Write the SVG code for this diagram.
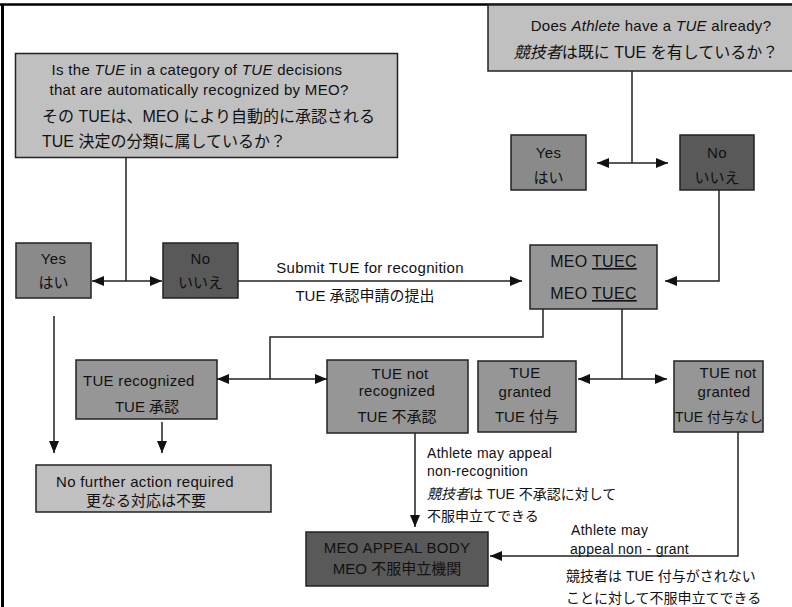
<svg xmlns="http://www.w3.org/2000/svg" width="792" height="607" viewBox="0 0 792 607">
<defs>
<style>
text{font-family:"Liberation Sans","Noto Sans CJK JP",sans-serif;fill:#111;}
.en{font-size:15px;letter-spacing:0.3px;}
.lb{font-size:14px;letter-spacing:0.3px;}
.jp{font-size:15px;}
.js{font-size:14px;}
.jpl{font-size:16px;}
.m{text-anchor:middle;}
.i{font-style:italic;}
.light{fill:#c0c0c0;stroke:#222;stroke-width:1.5;}
.mid{fill:#969696;stroke:#222;stroke-width:1.5;}
.yes{fill:#8a8a8a;stroke:#222;stroke-width:1.5;}
.dark{fill:#595959;stroke:#222;stroke-width:1.5;}
.c{fill:none;stroke:#222;stroke-width:1.5;}
.u{text-decoration:underline;}
</style>
<marker id="ah" markerUnits="userSpaceOnUse" markerWidth="12" markerHeight="10" refX="12" refY="5" orient="auto-start-reverse">
<path d="M0,0 L12,5 L0,10 z" fill="#111"/>
</marker>
</defs>
<rect x="0" y="0" width="792" height="607" fill="#fff"/>
<g id="frame">
<line x1="0" y1="4.5" x2="792" y2="4.5" stroke="#000" stroke-width="2.5"/>
<line x1="2.5" y1="4" x2="2.5" y2="607" stroke="#000" stroke-width="3"/>
</g>
<g id="connectors">
<path class="c" d="M126,157 V281"/>
<path class="c" d="M92,281 H162" marker-start="url(#ah)" marker-end="url(#ah)"/>
<path class="c" d="M238,281 H522" marker-end="url(#ah)"/>
<path class="c" d="M632,71 V163"/>
<path class="c" d="M597,163 H668" marker-start="url(#ah)" marker-end="url(#ah)"/>
<path class="c" d="M719,190 V281 H665" marker-end="url(#ah)"/>
<path class="c" d="M543,309 V337 H270 V379"/>
<path class="c" d="M217,379 H327" marker-start="url(#ah)" marker-end="url(#ah)"/>
<path class="c" d="M622,309 V379"/>
<path class="c" d="M578,379 H667" marker-start="url(#ah)" marker-end="url(#ah)"/>
<path class="c" d="M54,316 V453" marker-end="url(#ah)"/>
<path class="c" d="M162,422 V453" marker-end="url(#ah)"/>
<path class="c" d="M415,433 V527" marker-end="url(#ah)"/>
<path class="c" d="M738,432 V556 H490" marker-end="url(#ah)"/>
<text class="en m" x="370" y="273">Submit  TUE  for recognition</text>
<text class="jp m" x="365" y="301">TUE 承認申請の提出</text>
<text class="lb" x="427" y="458">Athlete may appeal</text>
<text class="lb" x="427" y="476">non-recognition</text>
<text class="js" x="427" y="499"><tspan class="i">競技者</tspan>は TUE  不承認に対して</text>
<text class="js" x="427" y="521">不服申立てできる</text>
<text class="lb" x="571" y="535">Athlete may</text>
<text class="lb" x="570" y="554">appeal  non - grant</text>
<text class="js" x="566" y="581">競技者は  TUE 付与がされない</text>
<text class="js" x="566" y="603">ことに対して不服申立てできる</text>
</g>
<g id="q-category">
<rect class="light" x="15.5" y="53.5" width="382" height="104"/>
<text class="en m" x="197" y="75">Is the <tspan class="i">TUE</tspan> in a category of  <tspan class="i">TUE</tspan> decisions</text>
<text class="en m" x="199" y="95">that are automatically recognized by MEO?</text>
<text class="jpl" x="42" y="122">その TUEは、MEO により自動的に承認される</text>
<text class="jpl" x="42" y="147">TUE 決定の分類に属しているか？</text>
</g>
<g id="q-has-tue">
<rect class="light" x="488" y="5" width="310" height="66"/>
<text class="en m" x="651" y="31">Does <tspan class="i">Athlete</tspan> have a <tspan class="i">TUE</tspan> already?</text>
<text class="jp m" x="646" y="58" style="font-size:16px"><tspan class="i">競技者</tspan>は既に TUE を有しているか？</text>
</g>
<g id="yes-left">
<rect class="yes" x="16" y="243" width="75" height="55"/>
<text class="en m" x="53.5" y="264">Yes</text>
<text class="jp m" x="53.5" y="288">はい</text>
</g>
<g id="no-left">
<rect class="dark" x="163" y="243" width="75" height="55"/>
<text class="en m" x="200.5" y="264">No</text>
<text class="jp m" x="200.5" y="288">いいえ</text>
</g>
<g id="yes-right">
<rect class="yes" x="511" y="135" width="75" height="55"/>
<text class="en m" x="548.5" y="158">Yes</text>
<text class="jp m" x="548.5" y="183">はい</text>
</g>
<g id="no-right">
<rect class="dark" x="680" y="135" width="74" height="55"/>
<text class="en m" x="717" y="158">No</text>
<text class="jp m" x="717" y="183">いいえ</text>
</g>
<g id="meo-tuec">
<rect class="mid" x="530" y="245" width="127" height="64"/>
<text class="en m" x="593.5" y="267" style="font-size:16px">MEO <tspan class="u">TUEC</tspan></text>
<text class="en m" x="593.5" y="299" style="font-size:16px">MEO <tspan class="u">TUEC</tspan></text>
</g>
<g id="tue-recognized">
<rect class="mid" x="76" y="360" width="141" height="59"/>
<text class="en" x="83" y="386">TUE  recognized</text>
<text class="jp m" x="147" y="412">TUE 承認</text>
</g>
<g id="tue-not-recognized">
<rect class="mid" x="327" y="360" width="141" height="73"/>
<text class="en m" x="400" y="379">TUE  not</text>
<text class="en m" x="397" y="396">recognized</text>
<text class="jp m" x="397" y="422">TUE 不承認</text>
</g>
<g id="tue-granted">
<rect class="mid" x="478" y="361" width="98" height="71"/>
<text class="en m" x="525" y="378">TUE</text>
<text class="en m" x="525" y="397">granted</text>
<text class="jp m" x="527" y="422">TUE 付与</text>
</g>
<g id="tue-not-granted">
<rect class="mid" x="674" y="361" width="89" height="71"/>
<text class="en m" x="728" y="378">TUE not</text>
<text class="en m" x="724" y="397">granted</text>
<text class="js m" x="719" y="422">TUE 付与なし</text>
</g>
<g id="no-further-action">
<rect class="light" x="36" y="465" width="235" height="47"/>
<text class="en m" x="145" y="487">No further action required</text>
<text class="jp m" x="146" y="506">更なる対応は不要</text>
</g>
<g id="appeal-body">
<rect class="dark" x="306" y="532" width="182" height="54"/>
<text class="en m" x="397" y="553">MEO APPEAL BODY</text>
<text class="jp m" x="397" y="574">MEO 不服申立機関</text>
</g>
</svg>
